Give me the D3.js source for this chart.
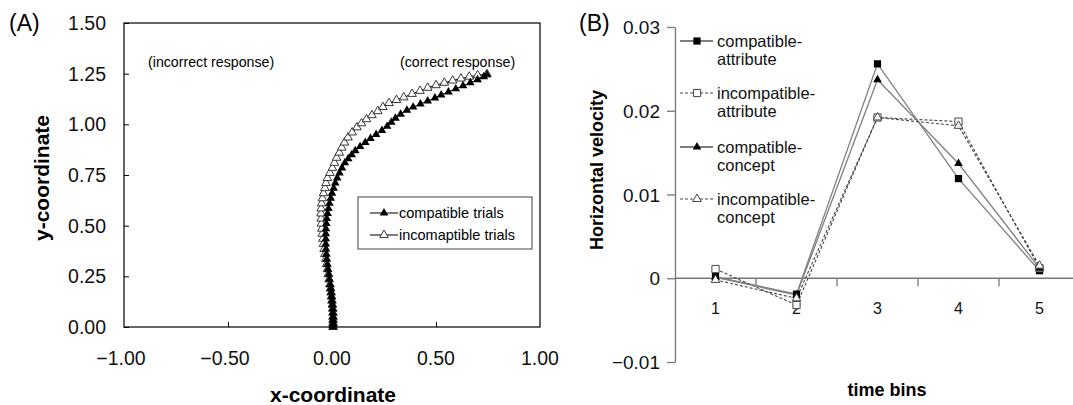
<!DOCTYPE html>
<html>
<head>
<meta charset="utf-8">
<script src="https://cdn.jsdelivr.net/npm/d3@7"></script>
<style>
  html, body { margin: 0; padding: 0; background: #fff; }
  svg { display: block; font-family: "Liberation Sans", Arial, sans-serif; }
</style>
</head>
<body>
<svg id="chart" width="1073" height="405"></svg>
<script>
// ---- Panel A data: mean trajectories [x, y] ----
const compatibleTrials = [
  [0.005, 0.00], [0.005, 0.01], [0.005, 0.02], [0.005, 0.035], [0.005, 0.05],
  [0.004, 0.07], [0.003, 0.09], [0.002, 0.11], [0.000, 0.13], [-0.002, 0.15],
  [-0.004, 0.17], [-0.006, 0.19], [-0.009, 0.21], [-0.012, 0.235], [-0.015, 0.26],
  [-0.019, 0.285], [-0.022, 0.31], [-0.025, 0.335], [-0.027, 0.36], [-0.029, 0.385],
  [-0.030, 0.41], [-0.030, 0.435], [-0.030, 0.46], [-0.029, 0.485], [-0.027, 0.51],
  [-0.025, 0.535], [-0.021, 0.56], [-0.017, 0.585], [-0.012, 0.61], [-0.006, 0.635],
  [0.000, 0.66], [0.008, 0.685], [0.016, 0.71], [0.025, 0.735], [0.036, 0.76],
  [0.048, 0.785], [0.062, 0.81], [0.078, 0.83], [0.095, 0.85], [0.112, 0.87],
  [0.135, 0.89], [0.160, 0.91], [0.185, 0.93], [0.212, 0.95], [0.240, 0.97],
  [0.265, 0.99], [0.285, 1.01], [0.305, 1.03], [0.330, 1.05], [0.360, 1.07],
  [0.390, 1.085], [0.425, 1.10], [0.460, 1.115], [0.495, 1.13], [0.525, 1.145],
  [0.560, 1.16], [0.595, 1.175], [0.630, 1.19], [0.665, 1.205], [0.700, 1.22],
  [0.730, 1.235], [0.745, 1.245]
];
const incompatibleTrials = [
  [0.005, 0.00], [0.005, 0.01], [0.005, 0.02], [0.005, 0.035], [0.005, 0.05],
  [0.005, 0.07], [0.004, 0.09], [0.002, 0.11], [0.000, 0.13], [-0.002, 0.15],
  [-0.004, 0.17], [-0.007, 0.19], [-0.010, 0.21], [-0.014, 0.235], [-0.018, 0.26],
  [-0.022, 0.285], [-0.026, 0.31], [-0.030, 0.335], [-0.034, 0.36], [-0.038, 0.385],
  [-0.041, 0.41], [-0.044, 0.435], [-0.047, 0.46], [-0.049, 0.485], [-0.051, 0.51],
  [-0.052, 0.535], [-0.053, 0.56], [-0.052, 0.585], [-0.050, 0.61], [-0.046, 0.635],
  [-0.041, 0.66], [-0.034, 0.685], [-0.029, 0.71], [-0.022, 0.735], [-0.010, 0.76],
  [0.002, 0.785], [0.012, 0.81], [0.022, 0.835], [0.035, 0.86], [0.047, 0.885],
  [0.060, 0.91], [0.077, 0.935], [0.097, 0.96], [0.120, 0.985], [0.142, 1.005],
  [0.166, 1.025], [0.192, 1.045], [0.220, 1.065], [0.245, 1.085], [0.274, 1.105],
  [0.310, 1.12], [0.345, 1.133], [0.385, 1.15], [0.423, 1.165], [0.460, 1.18],
  [0.500, 1.193], [0.540, 1.205], [0.580, 1.216], [0.620, 1.226], [0.660, 1.235],
  [0.700, 1.242], [0.745, 1.248]
];
const xTicksA = [-1.0, -0.5, 0.0, 0.5, 1.0];
const yTicksA = [0, 0.25, 0.5, 0.75, 1.0, 1.25, 1.5];

// ---- Panel B data: horizontal velocity per time bin ----
const timeBins = ['1', '2', '3', '4', '5'];
const compatibleAttribute = [0.0002, -0.0019, 0.0256, 0.0119, 0.0009];
const incompatibleAttribute = [0.0011, -0.0032, 0.0192, 0.0187, 0.0012];
const compatibleConcept = [0.0001, -0.0020, 0.0237, 0.0137, 0.0012];
const incompatibleConcept = [-0.0002, -0.0024, 0.0192, 0.0182, 0.0015];
const yTicksB = [-0.01, 0, 0.01, 0.02, 0.03];

const svg = d3.select('#chart');

// triangle / square symbol helpers
const tri = d3.symbol().type(d3.symbolTriangle).size(32);
const sq = d3.symbol().type(d3.symbolSquare).size(52);

// ================= Panel A =================
const xA = d3.scaleLinear().domain([-1, 1]).range([124, 540]);
const yA = d3.scaleLinear().domain([0, 1.5]).range([327, 23]);
const gA = svg.append('g');

gA.append('rect')
  .attr('x', xA(-1)).attr('y', yA(1.5))
  .attr('width', xA(1) - xA(-1)).attr('height', yA(0) - yA(1.5))
  .attr('fill', 'none').attr('stroke', '#000').attr('stroke-width', 1.2);

// y axis (ticks pointing inward)
const yAxisA = gA.append('g').attr('transform', `translate(${xA(-1)},0)`)
  .call(d3.axisRight(yA).tickValues(yTicksA).tickSize(5).tickFormat(''));
yAxisA.select('.domain').remove();
yAxisA.selectAll('line').attr('stroke', '#000');
gA.selectAll('text.ylabA').data(yTicksA).join('text')
  .attr('class', 'ylabA')
  .attr('x', 106).attr('y', d => yA(d) + 7)
  .attr('text-anchor', 'end').attr('font-size', 19.5).attr('fill', '#111')
  .text(d => d3.format('.2f')(d));

// x axis (ticks pointing inward)
const xAxisA = gA.append('g').attr('transform', `translate(0,${yA(0)})`)
  .call(d3.axisTop(xA).tickValues([-0.5, 0, 0.5]).tickSize(5).tickFormat(''));
xAxisA.select('.domain').remove();
xAxisA.selectAll('line').attr('stroke', '#000');
gA.selectAll('text.xlabA').data(xTicksA).join('text')
  .attr('class', 'xlabA')
  .attr('x', d => xA(d) - (d < 0 ? 3 : 0)).attr('y', 365)
  .attr('text-anchor', 'middle').attr('font-size', 19.5).attr('fill', '#111')
  .text(d => d3.format('.2f')(d));

gA.append('text').attr('x', 333).attr('y', 402)
  .attr('text-anchor', 'middle').attr('font-size', 21).attr('font-weight', 'bold')
  .text('x-coordinate');
gA.append('text').attr('transform', 'translate(49,178) rotate(-90)')
  .attr('text-anchor', 'middle').attr('font-size', 21).attr('font-weight', 'bold')
  .text('y-coordinate');
gA.append('text').attr('x', 9).attr('y', 31).attr('font-size', 23).text('(A)');

gA.append('text').attr('x', 148).attr('y', 67).attr('font-size', 14.2).text('(incorrect response)');
gA.append('text').attr('x', 400).attr('y', 67).attr('font-size', 14.2).text('(correct response)');

const lineA = d3.line().x(d => xA(d[0])).y(d => yA(d[1]));
gA.append('path').datum(incompatibleTrials).attr('d', lineA)
  .attr('fill', 'none').attr('stroke', '#000').attr('stroke-width', 1);
gA.append('path').datum(compatibleTrials).attr('d', lineA)
  .attr('fill', 'none').attr('stroke', '#000').attr('stroke-width', 1);

gA.selectAll('path.open').data(incompatibleTrials).join('path')
  .attr('class', 'open')
  .attr('transform', d => `translate(${xA(d[0])},${yA(d[1])})`)
  .attr('d', tri).attr('fill', '#fff').attr('stroke', '#222').attr('stroke-width', 0.9);
gA.selectAll('path.filled').data(compatibleTrials).join('path')
  .attr('class', 'filled')
  .attr('transform', d => `translate(${xA(d[0])},${yA(d[1])})`)
  .attr('d', tri).attr('fill', '#000');

// legend A
const legA = gA.append('g');
legA.append('rect').attr('x', 358).attr('y', 197).attr('width', 174).attr('height', 52)
  .attr('fill', '#fff').attr('stroke', '#444').attr('stroke-width', 1);
[['compatible trials', true, 213], ['incomaptible trials', false, 235]].forEach(([label, filled, y]) => {
  legA.append('line').attr('x1', 370).attr('x2', 398).attr('y1', y).attr('y2', y)
    .attr('stroke', '#000').attr('stroke-width', 1);
  legA.append('path').attr('transform', `translate(384,${y})`).attr('d', tri)
    .attr('fill', filled ? '#000' : '#fff').attr('stroke', filled ? 'none' : '#222').attr('stroke-width', 0.9);
  legA.append('text').attr('x', 399).attr('y', y + 5).attr('font-size', 14.5).text(label);
});

// ================= Panel B =================
const xB = d3.scaleBand().domain(timeBins).range([675, 1080]);
const yB = d3.scaleLinear().domain([-0.01, 0.03]).range([362, 27]);
const gB = svg.append('g');

const yAxisB = gB.append('g').attr('transform', 'translate(675,0)')
  .call(d3.axisLeft(yB).tickValues(yTicksB).tickSize(8).tickSizeOuter(0).tickFormat(''));
yAxisB.selectAll('.domain, line').attr('stroke', '#777').attr('stroke-width', 1.3);
gB.selectAll('text.ylabB').data(yTicksB).join('text')
  .attr('class', 'ylabB')
  .attr('x', 660).attr('y', d => yB(d) + 7)
  .attr('text-anchor', 'end').attr('font-size', 19).attr('fill', '#111')
  .text(d => d === 0 ? '0' : d3.format('.2f')(d));

// horizontal axis at zero with ticks on band edges
gB.append('line').attr('x1', 675).attr('x2', 1080).attr('y1', yB(0)).attr('y2', yB(0))
  .attr('stroke', '#777').attr('stroke-width', 1.3);
gB.selectAll('line.bt').data(timeBins.slice(1)).join('line')
  .attr('class', 'bt')
  .attr('x1', d => xB(d)).attr('x2', d => xB(d))
  .attr('y1', yB(0)).attr('y2', yB(0) + 8)
  .attr('stroke', '#777').attr('stroke-width', 1.3);
gB.selectAll('text.xlabB').data(timeBins).join('text')
  .attr('class', 'xlabB')
  .attr('x', d => xB(d) + xB.bandwidth() / 2).attr('y', 314)
  .attr('text-anchor', 'middle').attr('font-size', 16).attr('fill', '#111')
  .text(d => d);

gB.append('text').attr('x', 887).attr('y', 396)
  .attr('text-anchor', 'middle').attr('font-size', 18).attr('font-weight', 'bold')
  .text('time bins');
gB.append('text').attr('transform', 'translate(603,170) rotate(-90)')
  .attr('text-anchor', 'middle').attr('font-size', 18).attr('font-weight', 'bold')
  .text('Horizontal velocity');
gB.append('text').attr('x', 579).attr('y', 31).attr('font-size', 23).text('(B)');

const seriesB = [
  { name: ['compatible-', 'attribute'], values: compatibleAttribute, dashed: false, sym: sq, filled: true },
  { name: ['incompatible-', 'attribute'], values: incompatibleAttribute, dashed: true, sym: sq, filled: false },
  { name: ['compatible-', 'concept'], values: compatibleConcept, dashed: false, sym: tri, filled: true },
  { name: ['incompatible-', 'concept'], values: incompatibleConcept, dashed: true, sym: tri, filled: false }
];
const lineB = d3.line()
  .x((d, i) => xB(timeBins[i]) + xB.bandwidth() / 2)
  .y(d => yB(d));

seriesB.forEach(s => {
  gB.append('path').datum(s.values).attr('d', lineB)
    .attr('fill', 'none')
    .attr('stroke', s.dashed ? '#444' : '#808080')
    .attr('stroke-width', s.dashed ? 1.1 : 1.3)
    .attr('stroke-dasharray', s.dashed ? '3,2' : null);
});
seriesB.forEach(s => {
  gB.selectAll(null).data(s.values).join('path')
    .attr('transform', (d, i) => `translate(${xB(timeBins[i]) + xB.bandwidth() / 2},${yB(d)})`)
    .attr('d', s.sym)
    .attr('fill', s.filled ? '#000' : '#fff')
    .attr('stroke', s.filled ? 'none' : '#444').attr('stroke-width', 1);
});

// legend B
const legY = [41, 93, 147, 199];
seriesB.forEach((s, i) => {
  const y = legY[i];
  gB.append('line').attr('x1', 680).attr('x2', 713).attr('y1', y).attr('y2', y)
    .attr('stroke', s.dashed ? '#444' : '#000').attr('stroke-width', 1.1)
    .attr('stroke-dasharray', s.dashed ? '3,2' : null);
  gB.append('path').attr('transform', `translate(697,${y})`).attr('d', s.sym)
    .attr('fill', s.filled ? '#000' : '#fff')
    .attr('stroke', s.filled ? 'none' : '#444').attr('stroke-width', 1);
  gB.append('text').attr('x', 717).attr('y', y + 6).attr('font-size', 16.5).attr('fill', '#111').text(s.name[0]);
  gB.append('text').attr('x', 717).attr('y', y + 24).attr('font-size', 16.5).attr('fill', '#111').text(s.name[1]);
});
</script>
</body>
</html>
